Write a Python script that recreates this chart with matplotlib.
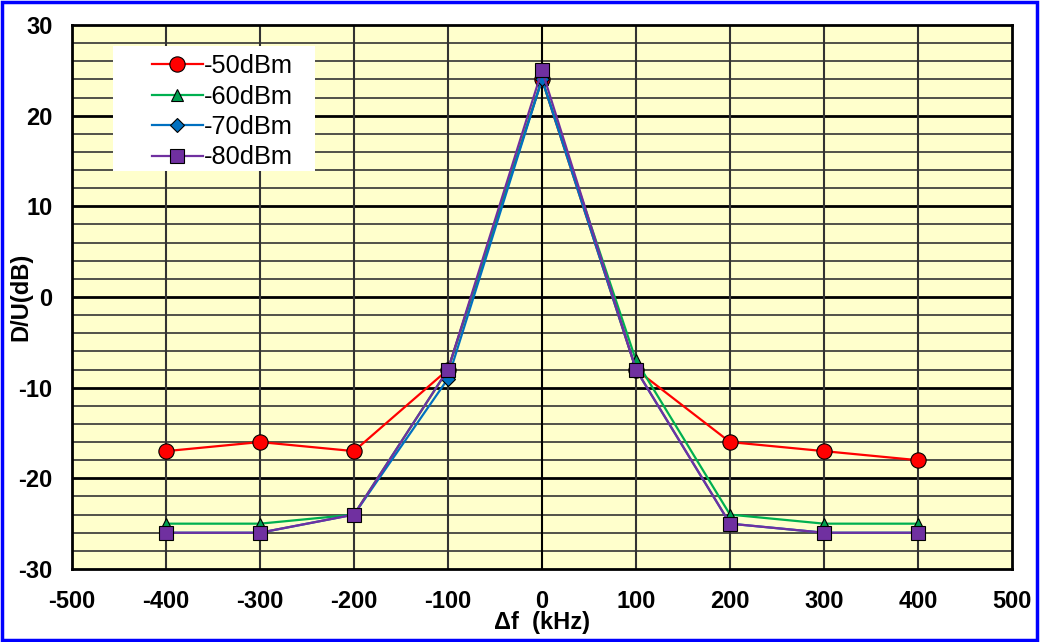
import matplotlib
matplotlib.use("Agg")
import matplotlib.pyplot as plt
from matplotlib.patches import Rectangle

plt.rcParams['font.family'] = ['Liberation Sans', 'DejaVu Sans']
plt.rcParams['axes.unicode_minus'] = False

freq = [-400, -300, -200, -100, 0, 100, 200, 300, 400]
s50 = [-17, -16, -17, -8, 24, -8, -16, -17, -18]
s60 = [-25, -25, -24, -8, 24, -7, -24, -25, -25]
s70 = [-26, -26, -24, -9, 24, -8, -25, -26, -26]
s80 = [-26, -26, -24, -8, 25, -8, -25, -26, -26]
labels = ['-50dBm', '-60dBm', '-70dBm', '-80dBm']
xticks = list(range(-500, 501, 100))
yticks = list(range(-30, 31, 10))

fig = plt.figure(figsize=(10.41, 6.42), dpi=100)
ax = fig.add_axes([72/1041, 1-569/642, (1012-72)/1041, (569-25)/642])
ax.set_facecolor('#FFFFCC')

# grid
for y in range(-28, 30, 2):
    if y % 10 == 0:
        ax.axhline(y, color='black', lw=2.0, zorder=1)
    else:
        ax.axhline(y, color='#333333', lw=1.2, zorder=1)
for x in range(-400, 500, 100):
    ax.axvline(x, color='#333333' if x != 0 else 'black', lw=1.5, zorder=1)

styles = [
    dict(color='#FF0000', marker='o', ms=11, mfc='#FF0000'),
    dict(color='#00B050', marker='^', ms=9, mfc='#00A050'),
    dict(color='#0070C0', marker='D', ms=7.5, mfc='#0070C0'),
    dict(color='#7030A0', marker='s', ms=9.5, mfc='#7030A0'),
]
for data, lab, st in zip([s50, s60, s70, s80], labels, styles):
    ax.plot(freq, data, color=st['color'], lw=1.6, marker=st['marker'],
            ms=st['ms'], mfc=st['mfc'], mec='black', mew=0.8, label=lab, zorder=3)

ax.set_xlim(-500, 500)
ax.set_ylim(-30, 30)
ax.set_xticks(xticks)
ax.set_yticks(yticks)
ax.tick_params(axis='x', length=0, labelsize=17, pad=15)
ax.tick_params(axis='y', length=0, labelsize=17, pad=14)
for t in ax.get_xticklabels() + ax.get_yticklabels():
    t.set_fontweight('bold')
for sp in ax.spines.values():
    sp.set_linewidth(2)
    sp.set_color('black')

ax.set_xlabel('Δf  (kHz)', fontsize=17, fontweight='bold', labelpad=-1)
ax.set_ylabel('D/U(dB)', fontsize=17, fontweight='bold', labelpad=-10)

# legend background box
ax.add_patch(Rectangle((0.0436, 0.731), 0.215, 0.23, transform=ax.transAxes,
                       facecolor='white', edgecolor='none', zorder=4))
leg = ax.legend(loc='upper left', bbox_to_anchor=(0.085, 0.946), fontsize=18.3,
                frameon=False, handlelength=2.0, handletextpad=0.05, borderpad=0,
                labelspacing=0.25, borderaxespad=0)
leg.set_zorder(5)

fig.patches.append(Rectangle((0.002, 0.003), 0.994, 0.994, transform=fig.transFigure,
                             fill=False, edgecolor='#0000FF', lw=2.5))

fig.savefig('out.png', dpi=100)
